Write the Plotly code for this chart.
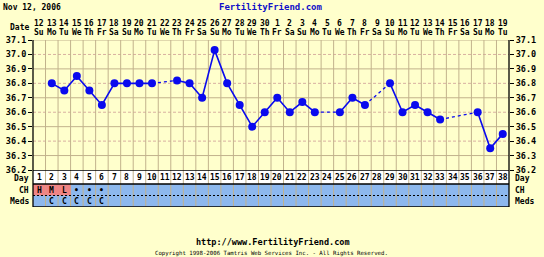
import plotly.graph_objects as go
import pandas as pd

# ---------------- data ----------------
start_date = "2006-11-12"
days = list(range(1, 39))
temps = [None, 36.8, 36.75, 36.85, 36.75, 36.65, 36.8, 36.8, 36.8, 36.8,
         None, 36.82, 36.8, 36.7, 37.03, 36.8, 36.65, 36.5, 36.6, 36.7,
         36.6, 36.67, 36.6, None, 36.6, 36.7, 36.65, None, 36.8, 36.6,
         36.65, 36.6, 36.55, None, None, 36.6, 36.35, 36.45]
ch_marks = ["H", "M", "L", "•", "•", "•"] + [""] * 32
menses_days = [1, 2, 3]
meds_marks = ["", "C", "C", "C", "C", "C"] + [""] * 32
tick_vals = [36.2, 36.3, 36.4, 36.5, 36.6, 36.7, 36.8, 36.9, 37.0, 37.1]
tick_text = ["36.2", "36.3", "36.4", "36.5", "36.6", "36.7", "36.8", "36.9", "37.0", "37.1"]
wk_names = ["Mo", "Tu", "We", "Th", "Fr", "Sa", "Su"]

dates = pd.date_range(start_date, periods=len(days), freq="D")
date_nums = [str(d.day) for d in dates]
date_wk = [wk_names[d.weekday()] for d in dates]

# ---------------- layout constants ----------------
W, H = 544, 257
ML, MR, MT, MB = 33, 35, 40, 50
PH = H - MT - MB
TABLE_PX = 37
TDOM = TABLE_PX / PH
BG = "#FFFFCC"
GRID = "#C2B28C"
GRID2 = "#D8B0A0"
BLUE_ROW = "#8DB8EE"
LINE_BLUE = "#0A0AEE"
FONT = "DejaVu Sans Mono"


def py(ypix):
    return (H - MB - ypix) / PH


def px_x(xpix):
    return (xpix - ML) / (W - ML - MR)


fig = go.Figure()

# solid segments
fig.add_trace(go.Scatter(
    x=days, y=temps, mode="lines+markers", connectgaps=False,
    line=dict(color=LINE_BLUE, width=1.6),
    marker=dict(color=LINE_BLUE, size=8),
    yaxis="y", hoverinfo="skip", showlegend=False))

# dashed connectors over gaps
valid = [(d, t) for d, t in zip(days, temps) if t is not None]
gx, gy = [], []
for (d0, t0), (d1, t1) in zip(valid[:-1], valid[1:]):
    if d1 - d0 > 1:
        gx += [d0, d1, None]
        gy += [t0, t1, None]
fig.add_trace(go.Scatter(
    x=gx, y=gy, mode="lines",
    line=dict(color=LINE_BLUE, width=1.3, dash="3px,3px"),
    yaxis="y", hoverinfo="skip", showlegend=False))

# invisible trace for right axis
fig.add_trace(go.Scatter(x=days, y=temps, mode="markers", marker=dict(opacity=0),
                         yaxis="y3", hoverinfo="skip", showlegend=False))

shapes = []
# table backgrounds
shapes.append(dict(type="rect", xref="paper", yref="y2", x0=0, x1=1, y0=0, y1=14,
                   fillcolor="white", line=dict(width=0), layer="below"))
shapes.append(dict(type="rect", xref="paper", yref="y2", x0=0, x1=1, y0=14, y1=37,
                   fillcolor=BLUE_ROW, line=dict(width=0), layer="below"))
for d in menses_days:
    shapes.append(dict(type="rect", xref="x", yref="y2", x0=d - 0.5, x1=d + 0.5, y0=14, y1=25.5,
                       fillcolor="#F08484", line=dict(width=0), layer="below"))

# horizontal grid lines
for i, v in enumerate(tick_vals[1:-1], start=1):
    if i % 2 == 1:
        shapes.append(dict(type="line", xref="paper", yref="y", x0=0, x1=1, y0=v, y1=v,
                           line=dict(color=GRID, width=1), layer="below"))
    else:
        shapes.append(dict(type="line", xref="paper", yref="y", x0=0, x1=1, y0=v, y1=v,
                           line=dict(color=GRID2, width=1, dash="3px,2px"), layer="below"))
shapes.append(dict(type="line", xref="paper", yref="y", x0=0, x1=1, y0=37.1, y1=37.1,
                   line=dict(color=GRID, width=1), layer="below"))

# vertical grid lines
for d in days[:-1]:
    shapes.append(dict(type="line", xref="x", yref="paper", x0=d + 0.5, x1=d + 0.5, y0=0, y1=1,
                       line=dict(color=GRID, width=1), layer="below"))

# table borders
for yv, dash in [(0, "solid"), (14, "solid"), (25.5, "2px,2px"), (37, "solid")]:
    shapes.append(dict(type="line", xref="paper", yref="y2", x0=0, x1=1, y0=yv, y1=yv,
                       line=dict(color="black", width=1.3 if dash == "solid" else 1, dash=dash)))
for xv in [0, 1]:
    shapes.append(dict(type="line", xref="paper", yref="paper", x0=xv, x1=xv, y0=0, y1=1,
                       line=dict(color="black", width=1.3)))

ann = []
tf = dict(family=FONT, size=8, color="black", weight="bold")
tickf = dict(family=FONT, size=8.5, color="black", weight="bold")
# header dates
for d, n, w in zip(days, date_nums, date_wk):
    ann.append(dict(x=d, y=py(23.5), xref="x", yref="paper", text=n, showarrow=False,
                    font=tf, xanchor="center", yanchor="middle"))
    ann.append(dict(x=d, y=py(32.5), xref="x", yref="paper", text=w, showarrow=False,
                    font=tf, xanchor="center", yanchor="middle"))
    ann.append(dict(x=d, y=7.5, xref="x", yref="y2", text=str(d), showarrow=False,
                    font=tf, xanchor="center", yanchor="middle"))
for d, c in zip(days, ch_marks):
    if c:
        ann.append(dict(x=d, y=20, xref="x", yref="y2", text=c, showarrow=False,
                        font=tf, xanchor="center", yanchor="middle"))
for d, c in zip(days, meds_marks):
    if c:
        ann.append(dict(x=d, y=31.5, xref="x", yref="y2", text=c, showarrow=False,
                        font=tf, xanchor="center", yanchor="middle"))

# row labels
ann.append(dict(x=px_x(31), y=py(27.5), xref="paper", yref="paper", text="Date",
                showarrow=False, font=tf, xanchor="right", yanchor="middle"))
for lbl, yy in [("Day", 8), ("CH", 20), ("Meds", 31.5)]:
    ann.append(dict(x=px_x(31), y=yy, xref="paper", yref="y2", text=lbl,
                    showarrow=False, font=tf, xanchor="right", yanchor="middle"))
    ann.append(dict(x=px_x(513), y=yy, xref="paper", yref="y2", text=lbl,
                    showarrow=False, font=tf, xanchor="left", yanchor="middle"))

# titles / footer
ann.append(dict(x=px_x(1), y=py(7), xref="paper", yref="paper", text="Nov 12, 2006",
                showarrow=False, font=tf, xanchor="left", yanchor="middle"))
ann.append(dict(x=px_x(271), y=py(7), xref="paper", yref="paper", text="FertilityFriend.com",
                showarrow=False, font=dict(family=FONT, size=9, color="#1010C8", weight="bold"),
                xanchor="center", yanchor="middle"))
ann.append(dict(x=px_x(273), y=py(242), xref="paper", yref="paper",
                text="http://www.FertilityFriend.com",
                showarrow=False, font=tickf, xanchor="center", yanchor="middle"))
ann.append(dict(x=px_x(271), y=py(253.5), xref="paper", yref="paper",
                text="Copyright 1998-2006 Tamtris Web Services Inc. - All Rights Reserved.",
                showarrow=False, font=dict(family=FONT, size=5.7, color="black"),
                xanchor="center", yanchor="middle"))

yax = dict(domain=[TDOM, 1], range=[36.2, 37.1], tickvals=tick_vals, ticktext=tick_text,
           ticks="outside", ticklen=4, tickcolor="black", showgrid=False, zeroline=False,
           showline=False, tickfont=tickf, fixedrange=True)

fig.update_layout(
    width=W, height=H, margin=dict(l=ML, r=MR, t=MT, b=MB, autoexpand=False),
    paper_bgcolor=BG, plot_bgcolor=BG, showlegend=False,
    xaxis=dict(range=[0.5, 38.5], showgrid=False, zeroline=False, showticklabels=False,
               ticks="", showline=False, fixedrange=True),
    yaxis=yax,
    yaxis3={**yax, "overlaying": "y", "side": "right", "anchor": "x"},
    yaxis2=dict(domain=[0, TDOM], range=[37, 0], showgrid=False, zeroline=False,
                showticklabels=False, ticks="", showline=False, fixedrange=True),
    shapes=shapes, annotations=ann,
)

fig.write_html("out.html")
